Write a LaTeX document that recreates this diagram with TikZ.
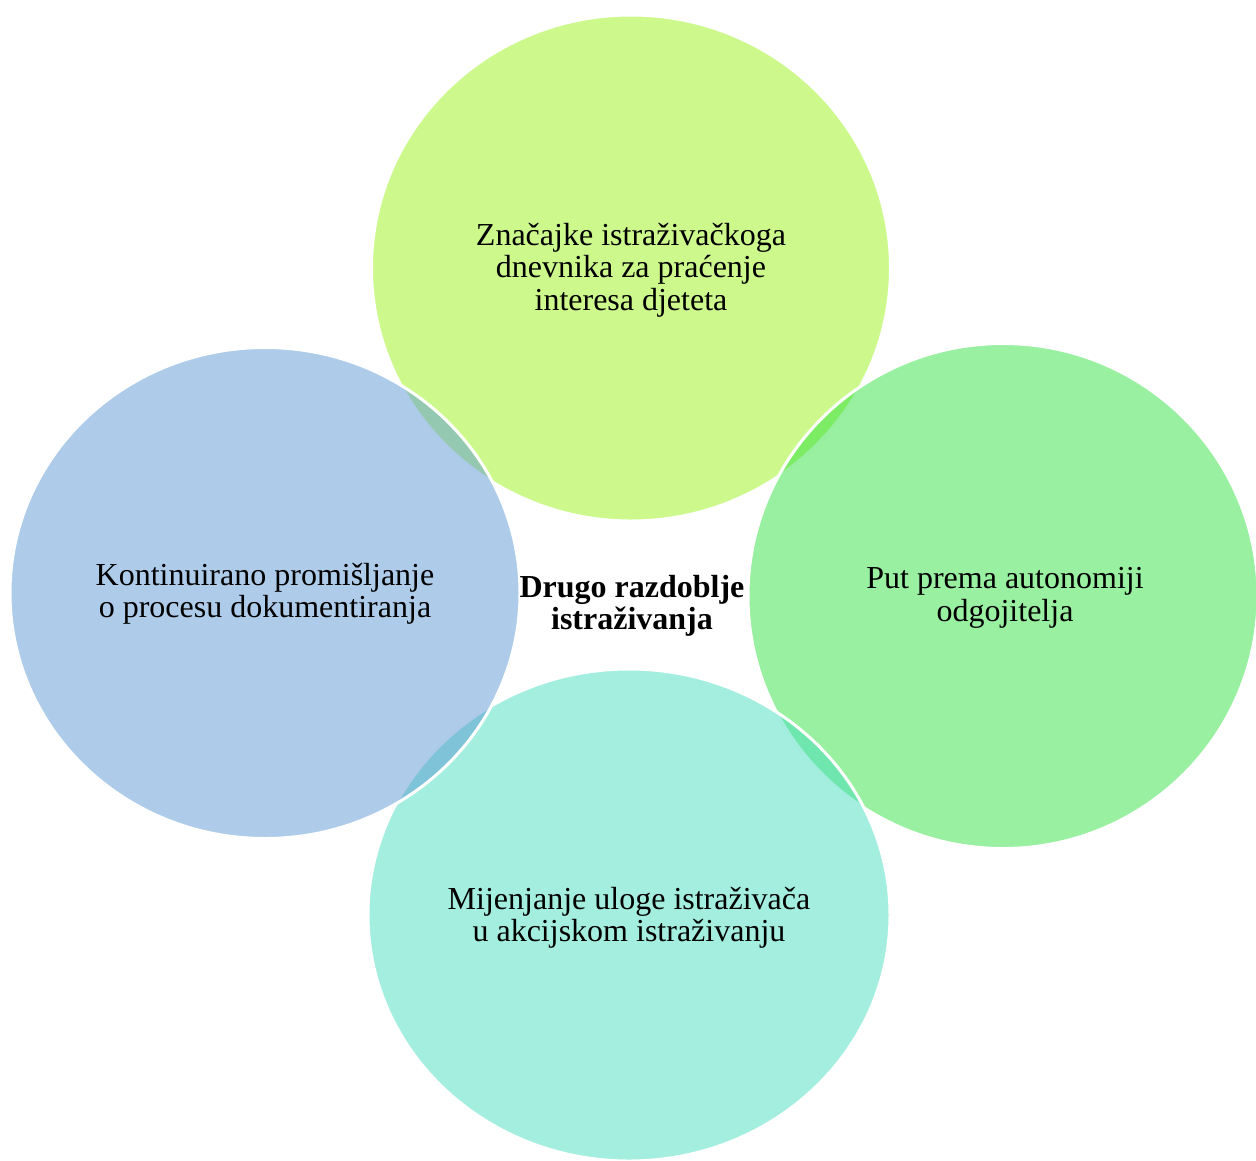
\documentclass[tikz,border=0pt]{standalone}
\usepackage{fontspec}
\setmainfont{Liberation Serif}
\usetikzlibrary{shapes.geometric}
\definecolor{ctop}{RGB}{153,241,25}
\definecolor{cright}{RGB}{49,225,65}
\definecolor{cbottom}{RGB}{71,221,189}
\definecolor{cleft}{RGB}{93,153,213}
\tikzset{
  bubble/.style={ellipse, draw=white, line width=3pt, fill opacity=0.5, draw opacity=1,
    inner sep=0pt},
  label/.style={align=center, font=\fontsize{32}{32.5}\selectfont, inner sep=0pt},
  hub/.style={align=center, font=\bfseries\fontsize{32}{32.5}\selectfont, inner sep=0pt}
}
\begin{document}
\begin{tikzpicture}[x=1pt,y=-1pt]
\useasboundingbox (0,0) rectangle (1256,1160);
\begin{scope}
\clip (0,0) rectangle (1256,1160);
\node[bubble, fill=ctop, minimum width=519pt, minimum height=506pt] (top) at (631,268) {};
\node[bubble, fill=cright, minimum width=510pt, minimum height=505pt] (right) at (1003,596) {};
\node[bubble, fill=cbottom, minimum width=522pt, minimum height=492pt] (bottom) at (629,915) {};
\node[bubble, fill=cleft, minimum width=510pt, minimum height=491pt] (left) at (265,593) {};
\end{scope}
\node[label] (ttop) at (631,270) {Značajke istraživačkoga\\dnevnika za praćenje\\interesa djeteta};
\node[label] (tright) at (1005,598) {Put prema autonomiji\\odgojitelja};
\node[label] (tbottom) at (629,918) {Mijenjanje uloge istraživača\\u akcijskom istraživanju};
\node[label] (tleft) at (265,594) {Kontinuirano promišljanje\\o procesu dokumentiranja};
\node[hub] (hub) at (632,606) {Drugo razdoblje\\istraživanja};
\end{tikzpicture}
\end{document}
